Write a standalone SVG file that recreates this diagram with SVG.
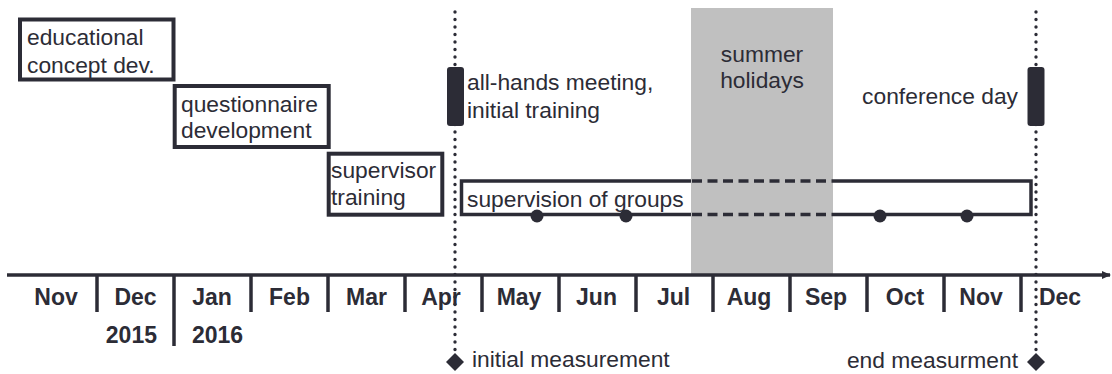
<svg xmlns="http://www.w3.org/2000/svg" width="1112" height="374" viewBox="0 0 1112 374">
  <style>
    text { font-family: "Liberation Sans", Arial, sans-serif; fill: #2c2c36; }
    .lbl { font-size: 22.8px; }
    .month { font-size: 23px; font-weight: bold; text-anchor: middle; }
    .year { font-size: 23px; font-weight: bold; }
    .box { fill: #ffffff; stroke: #2c2c36; stroke-width: 4; }
    .tick { stroke: #2c2c36; stroke-width: 3.5; }
    .dotted { stroke: #2c2c36; stroke-width: 3.4; stroke-linecap: round; stroke-dasharray: 0 7.5; fill: none; }
    .bar { fill: #2c2c36; }
    .solid { stroke: #2c2c36; stroke-width: 3.5; fill: none; }
    .dashed { stroke: #2c2c36; stroke-width: 3.5; fill: none; stroke-dasharray: 10 5.5; }
    .dot { fill: #2c2c36; }
  </style>
  <defs>
    <marker id="arrow" markerWidth="10" markerHeight="10" refX="8" refY="5" orient="auto" markerUnits="userSpaceOnUse">
      <path d="M0,1 L9,5 L0,9 Z" fill="#2c2c36"/>
    </marker>
  </defs>
  <rect width="1112" height="374" fill="#ffffff"/>

  <!-- summer holiday period -->
  <g id="summer">
    <rect x="691" y="8" width="142" height="266" fill="#c0c0c0"/>
    <text class="lbl" x="762" y="62" text-anchor="middle">summer</text>
    <text class="lbl" x="762" y="88" text-anchor="middle">holidays</text>
  </g>

  <!-- time axis -->
  <g id="axis">
    <line x1="7" y1="275" x2="1110" y2="275" stroke="#2c2c36" stroke-width="3.5" marker-end="url(#arrow)"/>
    <line class="tick" x1="97" y1="275" x2="97" y2="312"/>
    <line class="tick" x1="174" y1="275" x2="174" y2="346"/>
    <line class="tick" x1="251" y1="275" x2="251" y2="312"/>
    <line class="tick" x1="328" y1="275" x2="328" y2="312"/>
    <line class="tick" x1="405" y1="275" x2="405" y2="312"/>
    <line class="tick" x1="482" y1="275" x2="482" y2="312"/>
    <line class="tick" x1="559" y1="275" x2="559" y2="312"/>
    <line class="tick" x1="636" y1="275" x2="636" y2="312"/>
    <line class="tick" x1="713" y1="275" x2="713" y2="312"/>
    <line class="tick" x1="790" y1="275" x2="790" y2="312"/>
    <line class="tick" x1="867" y1="275" x2="867" y2="312"/>
    <line class="tick" x1="944" y1="275" x2="944" y2="312"/>
    <line class="tick" x1="1021" y1="275" x2="1021" y2="312"/>
    <text class="month" x="56" y="305">Nov</text>
    <text class="month" x="135.5" y="305">Dec</text>
    <text class="month" x="212" y="305">Jan</text>
    <text class="month" x="289.5" y="305">Feb</text>
    <text class="month" x="366.5" y="305">Mar</text>
    <text class="month" x="441" y="305">Apr</text>
    <text class="month" x="519" y="305">May</text>
    <text class="month" x="596.5" y="305">Jun</text>
    <text class="month" x="673.5" y="305">Jul</text>
    <text class="month" x="749" y="305">Aug</text>
    <text class="month" x="826" y="305">Sep</text>
    <text class="month" x="905" y="305">Oct</text>
    <text class="month" x="981" y="305">Nov</text>
    <text class="month" x="1060" y="305">Dec</text>
    <text class="year" x="157" y="343" text-anchor="end">2015</text>
    <text class="year" x="192" y="343">2016</text>
  </g>

  <!-- preparation phases -->
  <g id="concept">
    <rect class="box" x="20" y="19.5" width="153.5" height="60"/>
    <text class="lbl" x="27" y="45">educational</text>
    <text class="lbl" x="27" y="73">concept dev.</text>
  </g>
  <g id="questionnaire">
    <rect class="box" x="174.7" y="86" width="154" height="61"/>
    <text class="lbl" x="181" y="112">questionnaire</text>
    <text class="lbl" x="181" y="138">development</text>
  </g>
  <g id="supervisor-training">
    <rect class="box" x="328.7" y="153.7" width="113.6" height="61"/>
    <text class="lbl" x="331" y="178">supervisor</text>
    <text class="lbl" x="331" y="205">training</text>
  </g>

  <!-- supervision period, interrupted by holidays -->
  <g id="supervision">
    <path class="solid" d="M691,181 H461.5 V214.5 H691 M833,181 H1031 V214.5 H833"/>
    <path class="dashed" d="M692,181 H833 M692,214.5 H833"/>
    <text class="lbl" x="467" y="207">supervision of groups</text>
    <circle class="dot" cx="537" cy="216" r="6.5"/>
    <circle class="dot" cx="626" cy="216" r="6.5"/>
    <circle class="dot" cx="880" cy="216" r="6.5"/>
    <circle class="dot" cx="967" cy="216" r="6.5"/>
  </g>

  <!-- measurement markers -->
  <g id="connectors">
    <line class="dotted" x1="455" y1="12" x2="455" y2="354"/>
    <line class="dotted" x1="1036" y1="12" x2="1036" y2="354"/>
  </g>
  <g id="kickoff">
    <rect class="bar" x="447" y="67" width="17" height="59" rx="3"/>
    <text class="lbl" x="467" y="90">all-hands meeting,</text>
    <text class="lbl" x="467" y="118">initial training</text>
  </g>
  <g id="conference">
    <rect class="bar" x="1027.5" y="67" width="17" height="59" rx="3"/>
    <text class="lbl" x="1018" y="104" text-anchor="end">conference day</text>
  </g>
  <g id="initial-measurement">
    <path class="bar" d="M455,353 L464,362 L455,371 L446,362 Z"/>
    <text class="lbl" x="472" y="367">initial measurement</text>
  </g>
  <g id="end-measurement">
    <path class="bar" d="M1036,353 L1045,362 L1036,371 L1027,362 Z"/>
    <text class="lbl" x="1018" y="368" text-anchor="end">end measurment</text>
  </g>
</svg>
